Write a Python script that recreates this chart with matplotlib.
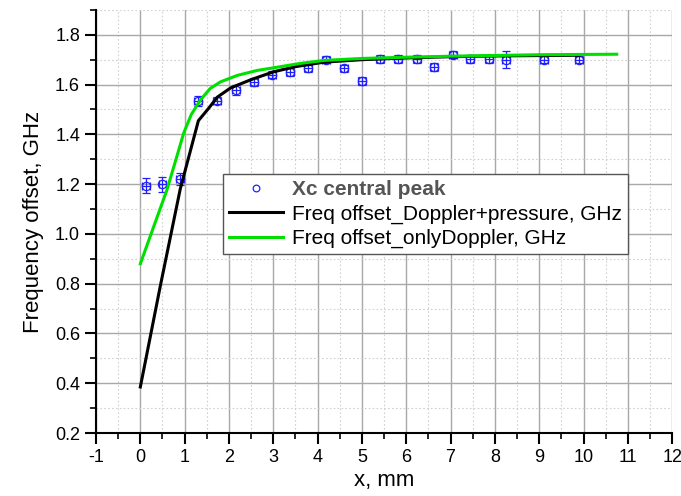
import numpy as np
import matplotlib
matplotlib.use("Agg")
import matplotlib.pyplot as plt
from matplotlib.ticker import MultipleLocator, FormatStrFormatter

plt.rcParams['font.family'] = ['Liberation Sans', 'DejaVu Sans']
plt.rcParams['axes.unicode_minus'] = False

# measured peak positions
x_pts = [0.13, 0.5, 0.9, 1.31, 1.74, 2.15, 2.56, 2.96, 3.37, 3.78, 4.19, 4.6, 5.0,
         5.41, 5.81, 6.24, 6.63, 7.06, 7.44, 7.87, 8.26, 9.1, 9.9]
y_pts = [1.193, 1.20, 1.22, 1.535, 1.535, 1.58, 1.61, 1.64, 1.65, 1.665, 1.70, 1.665, 1.615,
         1.703, 1.703, 1.703, 1.67, 1.72, 1.703, 1.703, 1.70, 1.70, 1.70]
y_err = [0.03, 0.03, 0.025, 0.02, 0.015, 0.02, 0.015, 0.015, 0.015, 0.015, 0.015, 0.015, 0.015,
         0.015, 0.015, 0.015, 0.015, 0.015, 0.015, 0.015, 0.035, 0.015, 0.015]
x_err = 0.09

# model curves
x_dp = [0, 0.45, 0.9, 1.31, 1.52, 1.74, 2.04, 2.5, 3.0, 3.5, 4.14, 5.0, 6.0, 7.0, 8.0, 9.9]
y_dp = [0.385, 0.79, 1.18, 1.455, 1.50, 1.55, 1.587, 1.62, 1.651, 1.672, 1.69, 1.70, 1.707, 1.712, 1.715, 1.718]

x_d = [0, 0.6, 0.8, 0.98, 1.15, 1.36, 1.58, 1.81, 2.19, 2.64, 3.1, 3.6, 4.14, 5.0, 6.0, 7.0, 8.0, 9.0, 10.75]
y_d = [0.88, 1.177, 1.297, 1.406, 1.48, 1.539, 1.585, 1.611, 1.637, 1.657, 1.67, 1.685, 1.697, 1.705, 1.71, 1.714, 1.717, 1.72, 1.722]

fig = plt.figure(figsize=(6.81, 4.96), dpi=100)
ax = fig.add_axes([0.141, 0.127, 0.846, 0.853])

ax.xaxis.set_major_locator(MultipleLocator(1))
ax.xaxis.set_minor_locator(MultipleLocator(0.5))
ax.yaxis.set_major_locator(MultipleLocator(0.2))
ax.yaxis.set_minor_locator(MultipleLocator(0.1))
ax.grid(which='major', color='#a8a8a8', lw=1.0, ls='-')
ax.grid(which='minor', color='#d0d0d0', lw=0.8, ls=(0, (1.5, 2)))
ax.set_axisbelow(True)

ax.errorbar(x_pts, y_pts, yerr=y_err, xerr=x_err, fmt='none', ecolor='#2020ff',
            elinewidth=0.9, capsize=3, capthick=0.9, zorder=3)
ax.plot(x_pts, y_pts, 'o', ms=6, mfc='none', mec='#2020ff', mew=0.9, zorder=4,
        label='Xc central peak')
ax.plot(x_dp, y_dp, color='black', lw=2.2, zorder=5, label='Freq offset_Doppler+pressure, GHz')
ax.plot(x_d, y_d, color='#00e000', lw=2.2, zorder=6, label='Freq offset_onlyDoppler, GHz')

ax.set_xlim(-1, 12)
ax.set_ylim(0.2, 1.9)
ax.spines['top'].set_visible(False)
ax.spines['right'].set_visible(False)
ax.spines['left'].set_linewidth(1.5)
ax.spines['bottom'].set_linewidth(1.5)
ax.tick_params(which='major', direction='out', length=8, width=1.5, labelsize=13)
ax.tick_params(which='minor', direction='out', length=4, width=1.2)
ax.set_yticks(np.arange(0.2, 1.81, 0.2))
ax.yaxis.set_major_formatter(FormatStrFormatter('%.1f'))

ax.set_xlabel('x, mm', fontsize=16, labelpad=3)
ax.set_ylabel('Frequency offset, GHz', fontsize=16, labelpad=8)

leg = ax.legend(loc='upper left', bbox_to_anchor=(0.22, 0.612), fontsize=15,
                frameon=True, fancybox=False, edgecolor='#555555', framealpha=1,
                handlelength=2.6, borderpad=0.3, labelspacing=0.25, handletextpad=0.4,
                borderaxespad=0, markerscale=0.8)
leg.get_frame().set_linewidth(1.0)
t0 = leg.get_texts()[0]
t0.set_fontweight('bold')
t0.set_color('#555555')
t0.set_fontsize(15)

fig.savefig('out.png', dpi=100)
